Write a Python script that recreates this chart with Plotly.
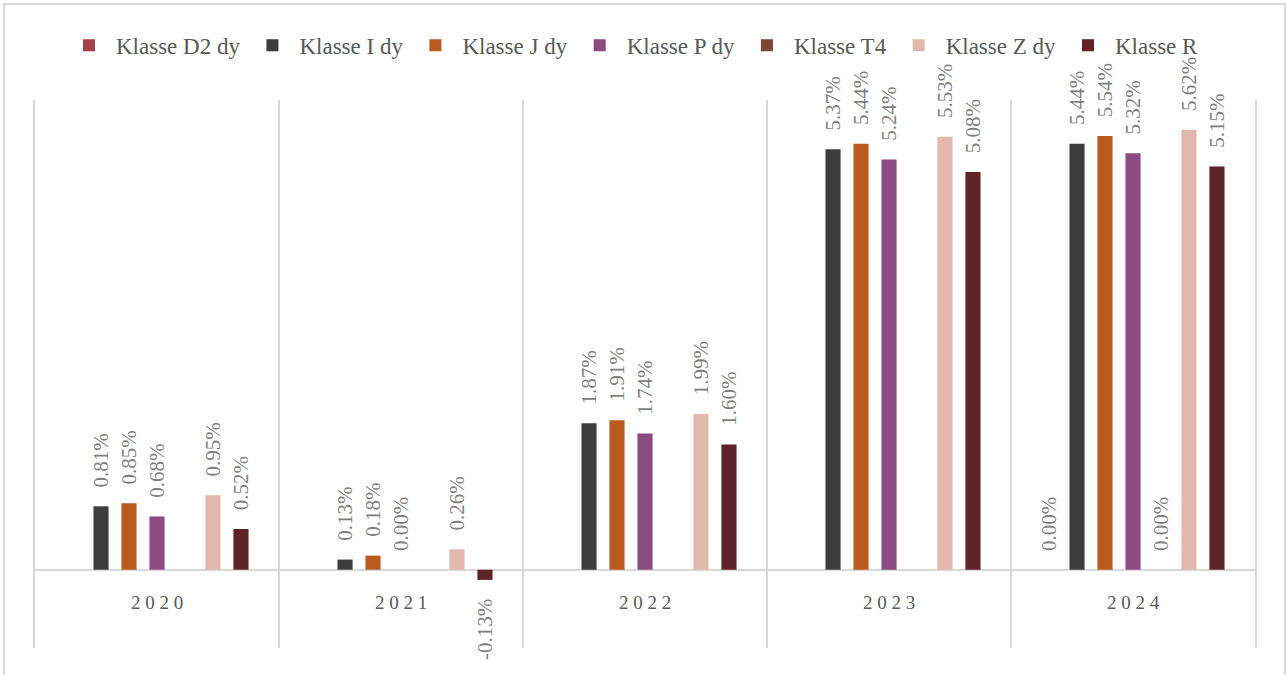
import plotly.graph_objects as go

years = ["2020", "2021", "2022", "2023", "2024"]
series_names = ["Klasse D2 dy", "Klasse I dy", "Klasse J dy", "Klasse P dy",
                "Klasse T4", "Klasse Z dy", "Klasse R"]
d2_dy = [None, None, None, None, 0.00]
i_dy = [0.81, 0.13, 1.87, 5.37, 5.44]
j_dy = [0.85, 0.18, 1.91, 5.44, 5.54]
p_dy = [0.68, 0.00, 1.74, 5.24, 5.32]
t4 = [None, None, None, None, 0.00]
z_dy = [0.95, 0.26, 1.99, 5.53, 5.62]
r_cls = [0.52, -0.13, 1.60, 5.08, 5.15]
series_values = [d2_dy, i_dy, j_dy, p_dy, t4, z_dy, r_cls]
colors = ["#A5404A", "#3D3D3D", "#BB5A1E", "#8B4A80", "#7F4638", "#E0B8AE", "#5F2328"]

FONT = "Liberation Serif"
PAD = "\u00a0\u00a0\u00a0"


def label(v):
    if v is None:
        return ""
    s = f"{v:.2f}%"
    return PAD + s if v >= 0 else s + PAD


fig = go.Figure()
for name, vals, col in zip(series_names, series_values, colors):
    fig.add_trace(go.Bar(
        x=years, y=vals, name=name, marker_color=col, marker_line_width=0,
        text=[label(v) for v in vals], texttemplate="%{text}",
        textposition="outside", textangle=-90,
        textfont=dict(family=FONT, size=21, color="#7F7F7F"),
        cliponaxis=False, constraintext="none",
    ))

fig.update_layout(
    width=1287, height=675,
    margin=dict(l=35, r=32, t=100, b=27),
    paper_bgcolor="white", plot_bgcolor="white",
    barmode="group", bargap=0.197, bargroupgap=0.46,
    font=dict(family=FONT, color="#595959"),
    legend=dict(orientation="h", x=0.5 - 12/1220, xanchor="center", y=1.10, yanchor="middle",
                font=dict(family=FONT, size=23, color="#595959"),
                bgcolor="rgba(0,0,0,0)",
                itemwidth=44, tracegroupgap=0),
    xaxis=dict(type="category", categoryorder="array", categoryarray=years,
               tickvals=years, ticktext=[" ".join(y) for y in years],
               tickson="boundaries", showgrid=True, gridcolor="#D9D9D9", gridwidth=2,
               ticks="", showline=False, zeroline=False,
               anchor="free", position=1/7, ticklabelstandoff=19,
               tickfont=dict(family=FONT, size=19, color="#595959"),
               range=[-0.5, 4.5]),
    yaxis=dict(range=[-1, 6], showgrid=False, showticklabels=False, ticks="",
               zeroline=True, zerolinecolor="#D9D9D9", zerolinewidth=2,
               showline=True, mirror=True, linecolor="#D9D9D9", linewidth=2),
    shapes=[dict(type="rect", xref="paper", yref="paper",
                 x0=-31/1220, x1=1+30/1220, y0=-35/548, y1=1+96/548,
                 line=dict(color="#D9D9D9", width=2), fillcolor="rgba(0,0,0,0)",
                 layer="below")],
)

fig.write_html("out.html", config={"displayModeBar": False},
               post_script="document.body.style.margin='0';")
